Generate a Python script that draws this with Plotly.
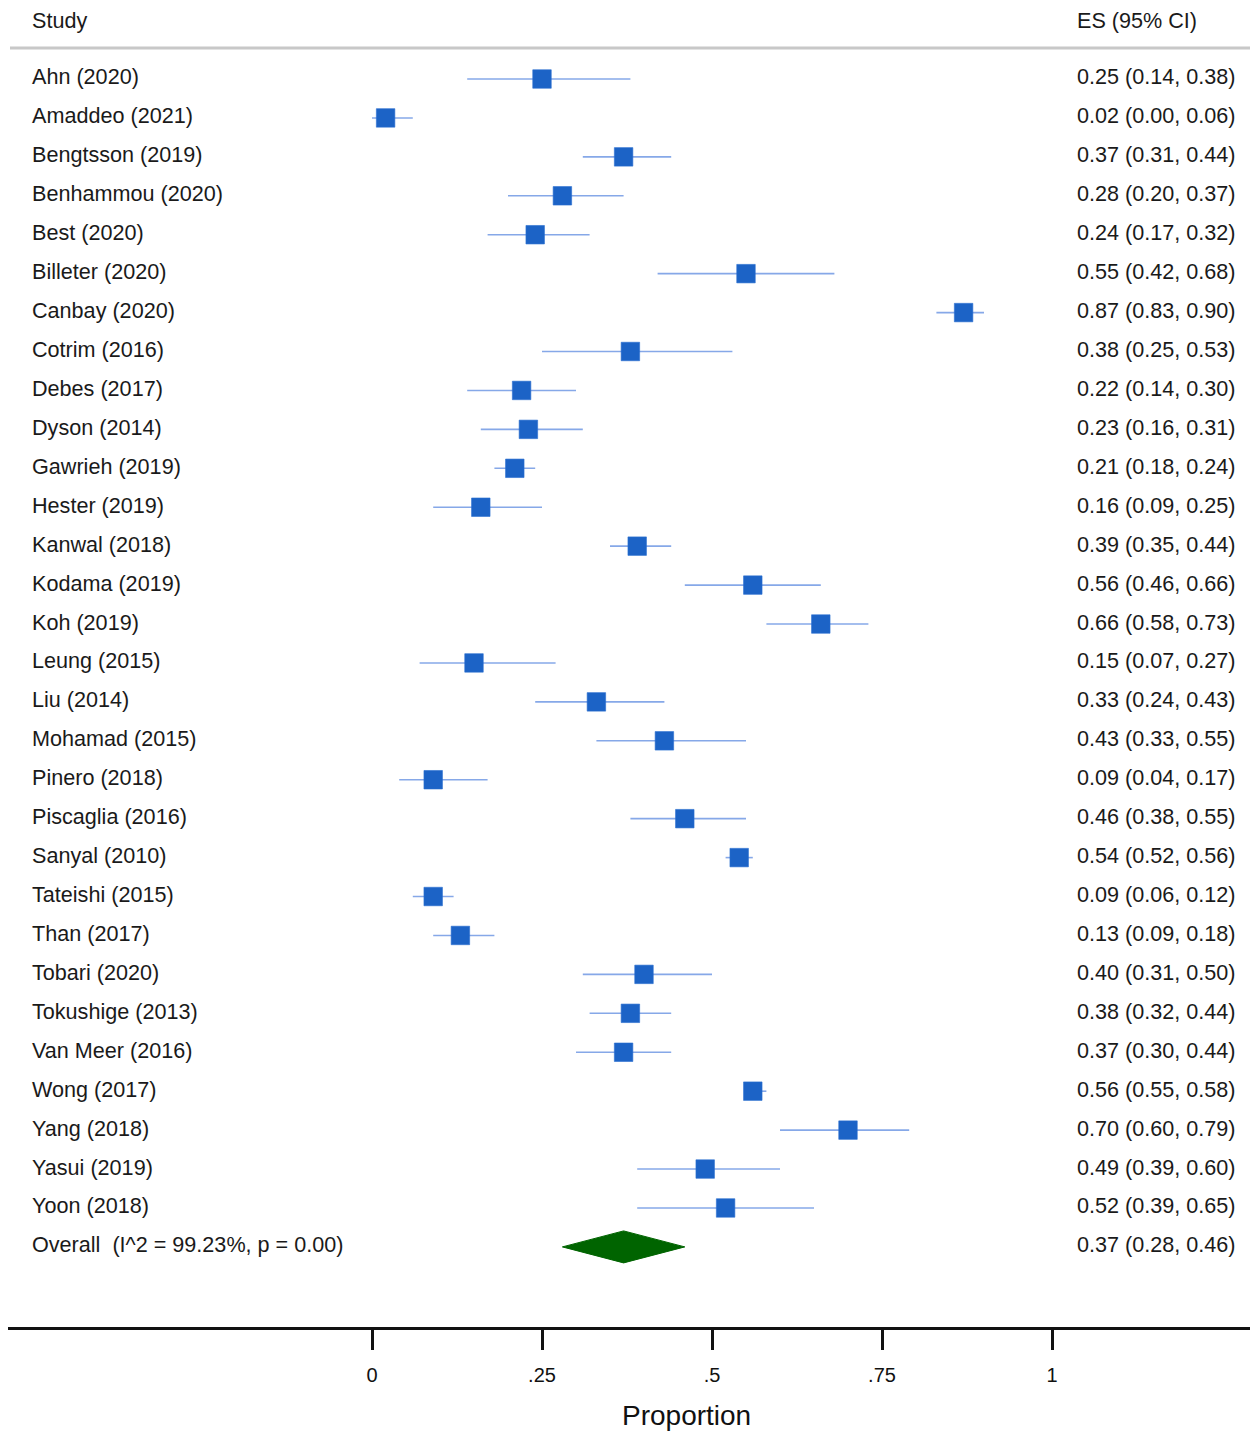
import plotly.graph_objects as go

# Study-level proportions with 95% confidence intervals
studies = [
    "Ahn (2020)", "Amaddeo (2021)", "Bengtsson (2019)", "Benhammou (2020)",
    "Best (2020)", "Billeter (2020)", "Canbay (2020)", "Cotrim (2016)",
    "Debes (2017)", "Dyson (2014)", "Gawrieh (2019)", "Hester (2019)",
    "Kanwal (2018)", "Kodama (2019)", "Koh (2019)", "Leung (2015)",
    "Liu (2014)", "Mohamad (2015)", "Pinero (2018)", "Piscaglia (2016)",
    "Sanyal (2010)", "Tateishi (2015)", "Than (2017)", "Tobari (2020)",
    "Tokushige (2013)", "Van Meer (2016)", "Wong (2017)", "Yang (2018)",
    "Yasui (2019)", "Yoon (2018)",
]
es = [0.25, 0.02, 0.37, 0.28, 0.24, 0.55, 0.87, 0.38, 0.22, 0.23, 0.21, 0.16,
      0.39, 0.56, 0.66, 0.15, 0.33, 0.43, 0.09, 0.46, 0.54, 0.09, 0.13, 0.40,
      0.38, 0.37, 0.56, 0.70, 0.49, 0.52]
ci_low = [0.14, 0.00, 0.31, 0.20, 0.17, 0.42, 0.83, 0.25, 0.14, 0.16, 0.18, 0.09,
          0.35, 0.46, 0.58, 0.07, 0.24, 0.33, 0.04, 0.38, 0.52, 0.06, 0.09, 0.31,
          0.32, 0.30, 0.55, 0.60, 0.39, 0.39]
ci_high = [0.38, 0.06, 0.44, 0.37, 0.32, 0.68, 0.90, 0.53, 0.30, 0.31, 0.24, 0.25,
           0.44, 0.66, 0.73, 0.27, 0.43, 0.55, 0.17, 0.55, 0.56, 0.12, 0.18, 0.50,
           0.44, 0.44, 0.58, 0.79, 0.60, 0.65]

overall_label = "Overall  (I^2 = 99.23%, p = 0.00)"
overall_es, overall_low, overall_high = 0.37, 0.28, 0.46

x_ticks = [0, 0.25, 0.5, 0.75, 1]
x_tick_text = ["0", ".25", ".5", ".75", "1"]

# ---- layout geometry (pixels) ----
W, H = 1250, 1432
M_L, M_B = 8, 105
PLOT_H = H - M_B
PLOT_W = W - M_L
X0_PX, X1_PX = 372, 1052          # pixel position of 0 and 1 on the axis
ROW0_PX, ROW_STEP = 79, 38.93     # first row centre and row spacing

unit = X1_PX - X0_PX
x_range = [(M_L - X0_PX) / unit, (W - X0_PX) / unit]
y_range = [(PLOT_H - ROW0_PX) / ROW_STEP, (0 - ROW0_PX) / ROW_STEP]


def px_to_paper_y(py):
    return 1 - py / PLOT_H


def px_to_paper_x(px):
    return (px - M_L) / PLOT_W


def row_px(i):
    return ROW0_PX + ROW_STEP * i


FONT = "Liberation Sans, Arial, sans-serif"
MARKER_BLUE = "#1c63c6"
LINE_BLUE = "#86a8e8"
GREEN = "#006400"

fig = go.Figure()

rows = list(range(len(studies)))

# confidence interval whiskers
ci_x, ci_y = [], []
for r, lo, hi in zip(rows, ci_low, ci_high):
    ci_x += [lo, hi, None]
    ci_y += [r, r, None]
fig.add_trace(go.Scatter(
    x=ci_x, y=ci_y, mode="lines",
    line=dict(color=LINE_BLUE, width=1.6),
    hoverinfo="skip", showlegend=False,
))

# point estimates
fig.add_trace(go.Scatter(
    x=es, y=rows, mode="markers",
    marker=dict(symbol="square", size=18.5, color=MARKER_BLUE,
                line=dict(width=0.6, color="#2a6fd0")),
    showlegend=False,
))

# pooled estimate diamond
ov_row = len(studies)
half_h = 16 / ROW_STEP
fig.add_trace(go.Scatter(
    x=[overall_low, overall_es, overall_high, overall_es, overall_low],
    y=[ov_row, ov_row - half_h, ov_row, ov_row + half_h, ov_row],
    mode="lines", fill="toself", fillcolor=GREEN,
    line=dict(color=GREEN, width=1),
    hoverinfo="skip", showlegend=False,
))

annotations = []
text_font = dict(family=FONT, size=21.6, color="#1a1a1a")


def add_text(px, py, text, anchor="left", font=text_font):
    annotations.append(dict(
        x=px_to_paper_x(px), y=px_to_paper_y(py), xref="paper", yref="paper",
        text=text, showarrow=False, xanchor=anchor, yanchor="middle",
        font=font, borderpad=0,
    ))


# header
add_text(31, 20, "Study")
add_text(1076, 20, "ES (95% CI)")

# study rows
labels = studies + [overall_label]
vals = list(zip(es, ci_low, ci_high)) + [(overall_es, overall_low, overall_high)]
for i, (lab, (e, lo, hi)) in enumerate(zip(labels, vals)):
    py = row_px(i) - 2
    add_text(31, py, lab)
    add_text(1076, py, f"{e:.2f} ({lo:.2f}, {hi:.2f})")

# axis title
annotations.append(dict(
    x=0.463, y=px_to_paper_y(1415), xref="x", yref="paper",
    text="Proportion", showarrow=False, xanchor="center", yanchor="middle",
    font=dict(family=FONT, size=28, color="#111111"),
))

shapes = [dict(
    type="line", xref="paper", yref="paper",
    x0=px_to_paper_x(10), x1=1, y0=px_to_paper_y(48), y1=px_to_paper_y(48),
    line=dict(color="#c8c8c8", width=3),
)]

fig.update_layout(
    width=W, height=H,
    margin=dict(l=M_L, r=0, t=0, b=M_B, pad=0),
    paper_bgcolor="white", plot_bgcolor="white",
    annotations=annotations, shapes=shapes,
    xaxis=dict(
        range=x_range, showgrid=False, zeroline=False,
        showline=True, linecolor="#111111", linewidth=3,
        ticks="outside", ticklen=20, tickwidth=3, tickcolor="#111111",
        tickvals=x_ticks, ticktext=x_tick_text,
        tickfont=dict(family=FONT, size=20, color="#111111"),
        ticklabelstandoff=8,
        fixedrange=True,
    ),
    yaxis=dict(
        range=y_range, showgrid=False, zeroline=False, showline=False,
        showticklabels=False, ticks="", fixedrange=True,
    ),
)

fig.write_html("out.html")
